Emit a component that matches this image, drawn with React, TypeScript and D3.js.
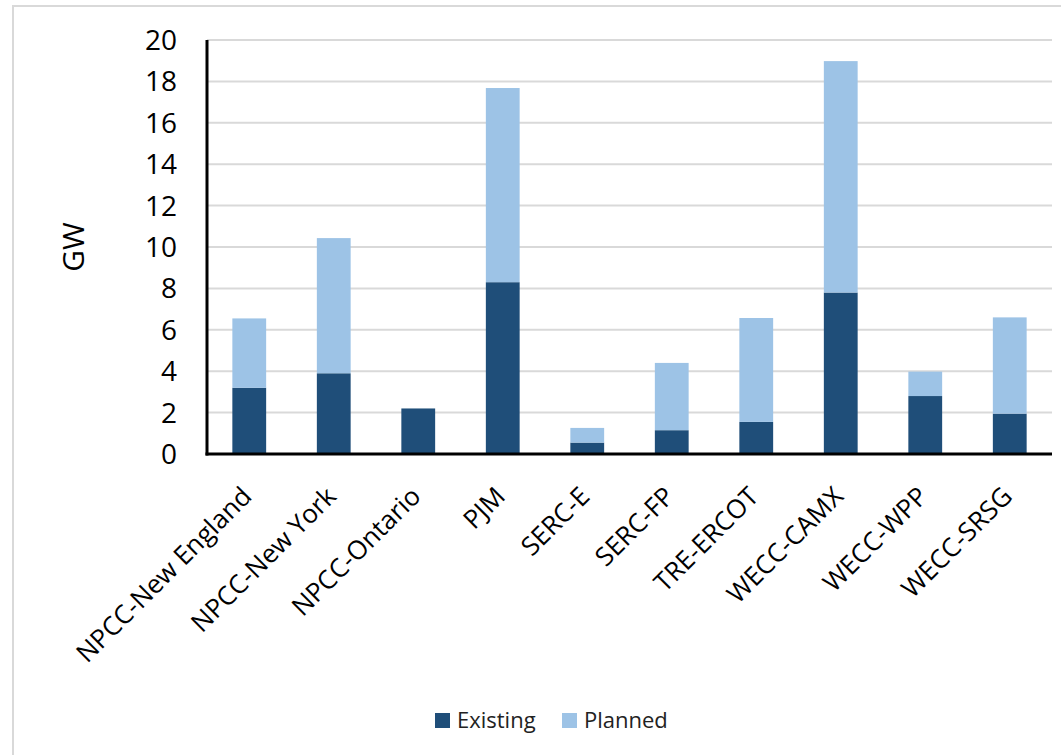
import React from "react";
import * as d3 from "d3";

const categories = ["NPCC-New England", "NPCC-New York", "NPCC-Ontario", "PJM", "SERC-E", "SERC-FP", "TRE-ERCOT", "WECC-CAMX", "WECC-WPP", "WECC-SRSG"];
const existing = [3.2, 3.9, 2.2, 8.3, 0.55, 1.15, 1.55, 7.8, 2.8, 1.95];
const planned = [3.35, 6.53, 0, 9.38, 0.71, 3.25, 5.02, 11.18, 1.18, 4.65];
const yTicks = [0, 2, 4, 6, 8, 10, 12, 14, 16, 18, 20];
const seriesNames = ["Existing", "Planned"];
const colors = ["#1F4E79", "#9DC3E6"];

const W = 1061, H = 755;
const left = 207, right = 1052, top = 40, bottom = 454;
const FONT = "'Open Sans', sans-serif";

export default function App() {
  const x = d3.scaleBand<string>().domain(categories).range([left, right]).paddingInner(0.6).paddingOuter(0.3);
  const y = d3.scaleLinear().domain([0, 20]).range([bottom, top]);
  const rows = categories.map((c, i) => ({ c, Existing: existing[i], Planned: planned[i] }));
  const stack = d3.stack<any>().keys(seriesNames)(rows);

  return (
    <svg width={W} height={H} style={{ position: "absolute", left: 0, top: 0, background: "#fff" }} fontFamily={FONT}>
      <rect x={13} y={6} width={1200} height={900} fill="#fff" stroke="#D9D9D9" strokeWidth={2} />
      {yTicks.map((t) => (
        <g key={t}>
          {t > 0 && <line x1={left} x2={right} y1={y(t)} y2={y(t)} stroke="#D9D9D9" strokeWidth={2} />}
          <text x={177} y={y(t)} dy="0.36em" textAnchor="end" fontSize={28} fill="#000">{t}</text>
        </g>
      ))}
      {stack.map((s, si) => (
        <g key={s.key} fill={colors[si]}>
          {s.map((d: any, i: number) => (
            d[1] - d[0] > 0 ? (
              <rect key={i} x={x(categories[i])} width={x.bandwidth()} y={y(d[1])} height={y(d[0]) - y(d[1])} />
            ) : null
          ))}
        </g>
      ))}
      <line x1={left} x2={left} y1={top} y2={bottom + 1.5} stroke="#000" strokeWidth={3} />
      <line x1={left - 1.5} x2={right} y1={bottom} y2={bottom} stroke="#000" strokeWidth={3} />
      {categories.map((c) => {
        const cx = (x(c) as number) + x.bandwidth() / 2;
        return (
          <text key={c} transform={`translate(${cx + 4},${bottom + 44}) rotate(-45)`} textAnchor="end" fontSize={26} fill="#000">{c}</text>
        );
      })}
      <text transform={`translate(84,${(top + bottom) / 2}) rotate(-90)`} textAnchor="middle" fontSize={30} fill="#000">GW</text>
      {seriesNames.map((n, i) => {
        const lx = i === 0 ? 435 : 562;
        return (
          <g key={n}>
            <rect x={lx} y={713} width={15} height={15} fill={colors[i]} />
            <text x={lx + 22} y={720} dy="0.36em" fontSize={22} fill="#222">{n}</text>
          </g>
        );
      })}
    </svg>
  );
}
